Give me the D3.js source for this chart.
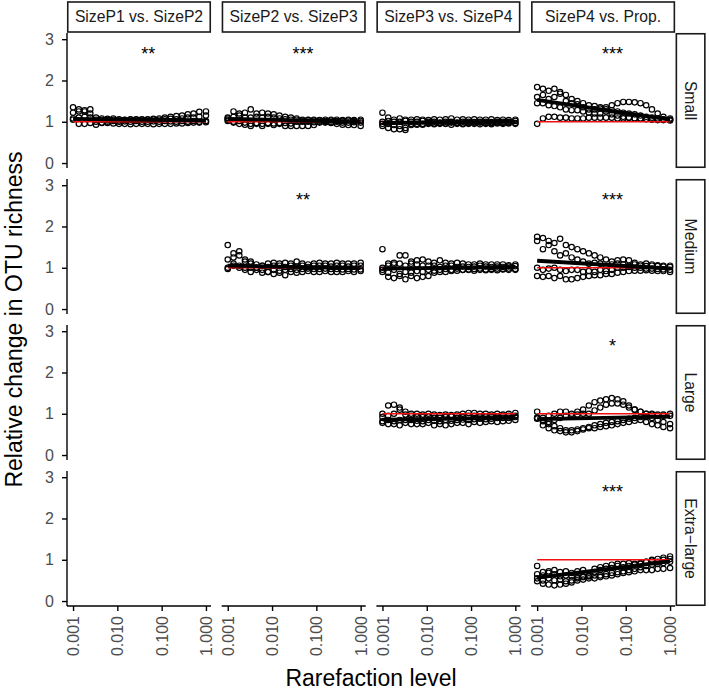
<!DOCTYPE html>
<html>
<head>
<meta charset="utf-8">
<script src="https://cdn.jsdelivr.net/npm/d3@7"></script>
<style>
  body { margin: 0; background: #fff; }
  text { font-family: "Liberation Sans", Arial, sans-serif; }
</style>
</head>
<body>
<svg id="chart" width="709" height="694"></svg>
<script>
// facets
const comparisons = ['SizeP1 vs. SizeP2', 'SizeP2 vs. SizeP3', 'SizeP3 vs. SizeP4', 'SizeP4 vs. Prop.']
const sizeClasses = ['Small', 'Medium', 'Large', 'Extra\u2212large']

const rarefactionLevels = [0.001, 0.00135, 0.00182, 0.00245, 0.0033, 0.00445, 0.006, 0.0081,
  0.0109, 0.0147, 0.0198, 0.0266, 0.0359, 0.0484, 0.0652, 0.0878, 0.118, 0.159,
  0.215, 0.289, 0.39, 0.525, 0.708, 1.0]

const xTicks = [0.001, 0.01, 0.1, 1]
const xTickLabels = ['0.001', '0.010', '0.100', '1.000']
const yTicks = [0, 1, 2, 3]

// relative change per replicate, one row per replicate
const smallP1P2 = [
  [1.35,1.3,1.28,1.3,1.1,1.08,1.07,1.08,1.06,1.05,1.06,1.05,1.06,1.05,1.07,1.08,1.1,1.12,1.14,1.15,1.18,1.2,1.24,1.25],
  [1.22,1.25,1.25,1.2,1.05,1.05,1.04,1.05,1.03,1.04,1.05,1.06,1.05,1.06,1.05,1.05,1.06,1.07,1.06,1.08,1.1,1.1,1.12,1.15],
  [1.08,1.1,1.12,1.1,1.0,0.98,1.0,1.02,1.0,1.01,1.0,1.02,1.0,1.0,1.01,1.0,1.02,1.01,1.0,1.02,1.0,1.02,1.0,1.02],
  [1.05,0.95,0.95,0.97,0.93,0.97,0.97,0.96,0.95,0.95,0.94,0.95,0.95,0.95,0.94,0.95,0.95,0.95,0.96,0.96,0.97,0.98,0.98,0.99]
]
const smallP2P3 = [
  [1.1,1.25,1.2,1.22,1.3,1.2,1.22,1.2,1.18,1.15,1.12,1.1,1.08,1.05,1.05,1.05,1.04,1.05,1.05,1.05,1.04,1.05,1.04,1.05],
  [1.05,1.12,1.15,1.1,1.1,1.12,1.1,1.12,1.1,1.08,1.06,1.05,1.05,1.03,1.04,1.03,1.03,1.02,1.03,1.02,1.02,1.03,1.02,1.02],
  [1.02,1.0,1.02,0.98,0.95,0.97,0.95,0.97,0.96,0.97,0.97,0.96,1.0,1.0,1.0,0.99,1.0,1.0,0.99,1.0,0.98,0.98,0.99,0.98],
  [1.08,0.98,0.95,0.93,0.9,0.95,0.9,0.95,0.92,0.95,0.9,0.9,0.9,0.9,0.9,0.92,0.98,0.98,0.97,0.95,0.93,0.92,0.92,0.9]
]
const smallP3P4 = [
  [1.22,1.1,1.05,1.08,1.05,1.05,1.06,1.05,1.04,1.06,1.05,1.06,1.08,1.05,1.06,1.05,1.06,1.05,1.05,1.06,1.04,1.05,1.04,1.05],
  [1.0,1.02,1.0,1.0,1.02,1.0,1.0,1.02,1.0,1.0,0.98,1.0,1.0,0.98,1.0,1.0,0.99,1.0,1.0,0.99,1.0,1.0,1.0,1.02],
  [0.95,0.85,0.82,0.82,0.85,0.95,0.95,0.93,0.95,0.94,0.95,0.95,0.93,0.95,0.94,0.95,0.95,0.94,0.95,0.94,0.96,0.95,0.96,0.95],
  [0.9,0.95,0.92,0.9,0.8,0.92,0.93,0.95,0.97,0.96,0.97,0.96,0.98,0.97,0.96,0.97,0.98,0.98,0.97,0.97,0.98,0.97,0.98,0.97]
]
const smallP4Prop = [
  [1.84,1.8,1.75,1.8,1.72,1.65,1.55,1.5,1.45,1.4,1.38,1.35,1.3,1.28,1.25,1.22,1.2,1.18,1.15,1.12,1.1,1.08,1.06,1.05],
  [1.6,1.65,1.55,1.6,1.68,1.5,1.45,1.42,1.35,1.3,1.3,1.32,1.35,1.4,1.45,1.48,1.48,1.47,1.45,1.4,1.3,1.2,1.12,1.08],
  [1.45,1.45,1.4,1.38,1.35,1.3,1.28,1.28,1.25,1.22,1.2,1.2,1.25,1.18,1.15,1.12,1.1,1.08,1.08,1.06,1.05,1.04,1.04,1.03],
  [0.95,1.08,1.12,1.12,1.1,1.1,1.08,1.08,1.08,1.1,1.1,1.1,1.1,1.1,1.08,1.08,1.1,1.08,1.07,1.07,1.06,1.05,1.05,1.05]
]
const mediumP2P3 = [
  [1.55,1.35,1.4,1.2,1.15,1.08,1.05,1.1,1.12,1.1,1.12,1.1,1.15,1.1,1.08,1.1,1.12,1.1,1.1,1.12,1.1,1.1,1.1,1.12],
  [1.2,1.25,1.3,1.15,1.1,1.0,1.05,1.02,1.05,1.05,1.02,1.05,1.03,1.05,1.02,1.05,1.05,1.05,1.03,1.05,1.05,1.03,1.05,1.05],
  [1.0,1.1,1.05,1.0,1.0,0.95,0.95,0.9,0.95,0.93,0.95,0.97,0.95,0.97,0.98,0.97,0.97,0.98,0.97,0.97,0.96,0.97,0.96,0.96],
  [0.97,1.05,1.0,0.95,0.9,1.0,0.88,0.9,0.85,0.88,0.82,0.9,0.88,0.9,0.92,0.9,0.9,0.92,0.9,0.9,0.9,0.92,0.9,0.92]
]
const mediumP3P4 = [
  [1.45,1.1,1.12,1.3,1.3,1.15,1.18,1.2,1.15,1.12,1.18,1.12,1.1,1.12,1.1,1.08,1.08,1.1,1.08,1.08,1.08,1.08,1.06,1.08],
  [1.0,1.05,1.08,1.1,1.05,1.1,1.08,1.05,1.05,1.05,1.02,1.05,1.05,1.02,1.03,1.02,1.03,1.05,1.03,1.02,1.03,1.02,1.03,1.04],
  [0.95,0.88,0.95,0.85,0.9,0.88,0.92,0.9,0.95,0.93,0.95,0.97,0.95,0.98,0.95,0.96,0.97,0.98,0.96,0.97,0.98,0.97,0.98,0.97],
  [0.9,0.78,0.75,0.8,0.72,0.8,0.75,0.78,0.8,0.88,0.9,0.9,0.92,0.93,0.95,0.95,0.93,0.95,0.94,0.95,0.94,0.96,0.95,0.95]
]
const mediumP4Prop = [
  [1.75,1.72,1.65,1.6,1.7,1.55,1.5,1.45,1.4,1.35,1.3,1.25,1.2,1.15,1.18,1.2,1.18,1.12,1.08,1.1,1.08,1.06,1.05,1.05],
  [1.65,1.45,1.55,1.4,1.3,1.35,1.25,1.2,1.15,1.1,1.12,1.1,1.05,1.08,1.1,1.08,1.05,1.08,1.05,1.04,1.05,1.04,1.03,1.02],
  [1.0,0.95,0.98,1.0,0.95,0.92,0.95,0.95,0.9,0.92,0.9,0.95,0.92,0.95,1.0,1.0,1.02,1.0,1.0,0.98,0.98,0.97,0.96,0.95],
  [0.8,0.78,0.8,0.75,0.8,0.72,0.72,0.75,0.78,0.8,0.82,0.82,0.85,0.85,0.88,0.9,0.92,0.93,0.93,0.94,0.93,0.92,0.92,0.9]
]
const largeP3P4 = [
  [1.0,1.2,1.22,1.1,1.05,1.0,1.0,0.98,1.0,0.98,0.97,0.98,0.97,0.98,1.0,1.02,1.02,1.0,1.0,0.98,1.0,0.98,1.0,1.02],
  [0.92,0.95,1.0,1.15,0.98,0.95,0.93,0.92,0.93,0.9,0.9,0.92,0.93,0.9,0.92,0.95,0.95,0.93,0.93,0.92,0.93,0.95,0.95,0.95],
  [0.82,0.85,0.82,0.85,0.85,0.85,0.83,0.82,0.85,0.83,0.82,0.85,0.83,0.85,0.86,0.85,0.87,0.88,0.87,0.88,0.9,0.9,0.9,0.92],
  [0.78,0.75,0.75,0.72,0.78,0.75,0.75,0.75,0.78,0.72,0.75,0.72,0.75,0.78,0.78,0.75,0.8,0.78,0.8,0.82,0.8,0.82,0.83,0.85]
]
const largeP4Prop = [
  [0.9,0.85,0.8,0.85,0.9,0.95,1.0,1.05,1.1,1.2,1.28,1.32,1.35,1.38,1.35,1.3,1.2,1.1,1.05,1.0,0.98,0.95,0.95,0.95],
  [1.05,0.9,0.95,1.0,1.05,1.05,0.95,0.98,1.0,1.0,1.08,1.15,1.22,1.25,1.25,1.22,1.15,1.1,1.05,1.0,1.0,0.98,0.98,1.0],
  [0.88,0.72,0.65,0.6,0.58,0.55,0.6,0.62,0.65,0.68,0.72,0.75,0.78,0.8,0.82,0.85,0.88,0.9,0.92,0.92,0.9,0.85,0.8,0.75],
  [0.9,0.82,0.75,0.7,0.65,0.6,0.55,0.58,0.62,0.65,0.65,0.68,0.7,0.72,0.75,0.78,0.8,0.83,0.85,0.8,0.75,0.72,0.68,0.65]
]
const xlargeP4Prop = [
  [0.85,0.7,0.72,0.75,0.7,0.72,0.68,0.72,0.75,0.6,0.78,0.82,0.85,0.88,0.9,0.9,0.92,0.9,0.92,0.95,1.0,1.02,1.05,1.08],
  [0.65,0.62,0.68,0.65,0.6,0.62,0.6,0.58,0.6,0.62,0.7,0.75,0.78,0.8,0.85,0.82,0.85,0.88,0.9,0.95,0.98,0.95,1.0,1.02],
  [0.55,0.5,0.55,0.5,0.52,0.48,0.5,0.55,0.58,0.6,0.62,0.62,0.65,0.68,0.7,0.72,0.75,0.78,0.82,0.85,0.88,0.9,0.92,0.95],
  [0.48,0.42,0.4,0.38,0.4,0.42,0.45,0.5,0.52,0.55,0.55,0.58,0.6,0.62,0.65,0.68,0.7,0.72,0.75,0.75,0.75,0.78,0.78,0.8]
]

// fitted line [value at 0.001, value at 1], null where no panel
const fitSmall = [[1.07, 1.03], [1.07, 1.0], [0.97, 1.0], [1.53, 1.05]]
const fitMedium = [null, [1.05, 0.99], [0.98, 1.02], [1.17, 0.98]]
const fitLarge = [null, null, [0.86, 0.9], [0.87, 0.93]]
const fitXlarge = [null, null, null, [0.57, 0.96]]

// significance labels
const starsSmall = ['**', '***', '', '***']
const starsMedium = ['', '**', '', '***']
const starsLarge = ['', '', '', '*']
const starsXlarge = ['', '', '', '***']
const starX = 0.05
const starY = 2.75
const refValue = 1

const seriesByRow = [
  [smallP1P2, smallP2P3, smallP3P4, smallP4Prop],
  [null, mediumP2P3, mediumP3P4, mediumP4Prop],
  [null, null, largeP3P4, largeP4Prop],
  [null, null, null, xlargeP4Prop]
]
const fitsByRow = [fitSmall, fitMedium, fitLarge, fitXlarge]
const starsByRow = [starsSmall, starsMedium, starsLarge, starsXlarge]

// layout
const plotLeft = 67, plotTop = 33
const panelW = 144, panelH = 135
const stepX = 154.7, stepY = 146
const stripH = 30, stripW = 30
const font = '"Liberation Sans", Arial, sans-serif'

const svg = d3.select('#chart')

const x = d3.scaleLog().domain([0.00073, 1.3]).range([0, panelW])
const y = d3.scaleLinear().domain([-0.12, 3.15]).range([panelH, 0])

const line = d3.line()
  .x(d => x(d[0]))
  .y(d => y(d[1]))

sizeClasses.forEach((size, r) => {
  comparisons.forEach((comp, c) => {
    const g = svg.append('g')
      .attr('transform', `translate(${plotLeft + c * stepX},${plotTop + r * stepY})`)

    const series = seriesByRow[r][c]
    if (series) {
      series.forEach(vals => {
        g.selectAll(null)
          .data(vals.map((v, i) => [rarefactionLevels[i], v]))
          .enter()
          .append('circle')
          .attr('cx', d => x(d[0]))
          .attr('cy', d => y(d[1]))
          .attr('r', 2.7)
          .attr('fill', 'none')
          .attr('stroke', '#000')
          .attr('stroke-width', 1.2)
      })

      const ends = [rarefactionLevels[0], rarefactionLevels[rarefactionLevels.length - 1]]
      g.append('path')
        .attr('d', line(ends.map(e => [e, refValue])))
        .attr('stroke', '#f01010')
        .attr('stroke-width', 1.7)
        .attr('fill', 'none')

      const fit = fitsByRow[r][c]
      g.append('path')
        .attr('d', line(ends.map((e, i) => [e, fit[i]])))
        .attr('stroke', '#000')
        .attr('stroke-width', 3.8)
        .attr('fill', 'none')
    }

    const star = starsByRow[r][c]
    if (star) {
      g.append('text')
        .attr('x', x(starX))
        .attr('y', y(starY))
        .attr('dy', '0.57em')
        .attr('text-anchor', 'middle')
        .style('font-size', '18px')
        .text(star)
    }

    // y axis only on first column
    if (c === 0) {
      const ya = g.append('g').call(d3.axisLeft(y).tickValues(yTicks).tickSize(5).tickPadding(8).tickFormat(d3.format('d')))
      ya.select('.domain').attr('d', `M0,0V${panelH}`).attr('stroke-width', 1.4)
      ya.selectAll('.tick line').attr('stroke-width', 1.4)
      ya.selectAll('.tick text').style('font-size', '16px').attr('fill', '#4d4d4d')
        .style('font-family', font)
    }

    // x axis only on bottom row
    if (r === sizeClasses.length - 1) {
      const xa = g.append('g')
        .attr('transform', `translate(0,${panelH})`)
        .call(d3.axisBottom(x).tickValues(xTicks).tickSize(5).tickFormat((d, i) => xTickLabels[i]))
      xa.select('.domain').attr('d', `M0,0H${panelW}`).attr('stroke-width', 1.4)
      xa.selectAll('.tick line').attr('stroke-width', 1.4)
      xa.selectAll('.tick text')
        .attr('transform', 'rotate(-90)')
        .attr('x', -10)
        .attr('y', 0)
        .attr('dy', '0.35em')
        .attr('text-anchor', 'end')
        .style('font-size', '16px')
        .attr('fill', '#4d4d4d')
        .style('font-family', font)
    }

    // column strips on top
    if (r === 0) {
      const sg = svg.append('g')
        .attr('transform', `translate(${plotLeft + c * stepX},${plotTop - stripH - 1})`)
      sg.append('rect')
        .attr('x', 0.75).attr('y', 0)
        .attr('width', panelW - 1.5).attr('height', stripH)
        .attr('fill', '#fff').attr('stroke', '#1a1a1a').attr('stroke-width', 1.6)
      sg.append('text')
        .attr('x', panelW / 2).attr('y', stripH / 2)
        .attr('dy', '0.35em')
        .attr('text-anchor', 'middle')
        .style('font-size', '15.7px')
        .attr('fill', '#1a1a1a')
        .text(comp)
    }

    // row strips on the right
    if (c === comparisons.length - 1) {
      const sg = svg.append('g')
        .attr('transform', `translate(${plotLeft + c * stepX + panelW + 0.5},${plotTop + r * stepY})`)
      sg.append('rect')
        .attr('x', 0.75).attr('y', 0.75)
        .attr('width', stripW - 1.5).attr('height', panelH - 1.5)
        .attr('fill', '#fff').attr('stroke', '#1a1a1a').attr('stroke-width', 1.6)
      sg.append('text')
        .attr('transform', `translate(${stripW / 2},${panelH / 2}) rotate(90)`)
        .attr('dy', '0.35em')
        .attr('text-anchor', 'middle')
        .style('font-size', '15.7px')
        .attr('fill', '#1a1a1a')
        .text(size)
    }
  })
})

// axis titles
const plotRight = plotLeft + 3 * stepX + panelW
svg.append('text')
  .attr('x', (plotLeft + plotRight) / 2)
  .attr('y', 686)
  .attr('text-anchor', 'middle')
  .style('font-size', '23px')
  .text('Rarefaction level')

const plotBottom = plotTop + 3 * stepY + panelH
svg.append('text')
  .attr('transform', `translate(22,${(plotTop + plotBottom) / 2}) rotate(-90)`)
  .attr('text-anchor', 'middle')
  .style('font-size', '23px')
  .text('Relative change in OTU richness')
</script>
</body>
</html>
